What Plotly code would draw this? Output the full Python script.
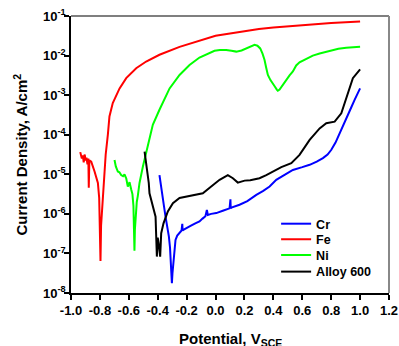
import plotly.graph_objects as go

# Potential (V vs SCE) and log10 current density (A/cm^2)
cr_v = [-0.388, -0.380, -0.369, -0.357, -0.346, -0.335, -0.323, -0.315, -0.311, -0.305, -0.302,
        -0.298, -0.291, -0.284, -0.277, -0.265, -0.249, -0.235, -0.230, -0.228, -0.220, -0.203,
        -0.170, -0.140, -0.111, -0.090, -0.070, -0.060, -0.053, -0.030, 0.005, 0.050, 0.097,
        0.103, 0.105, 0.110, 0.166, 0.220, 0.282, 0.330, 0.374, 0.420, 0.480, 0.535, 0.600,
        0.651, 0.700, 0.743, 0.775, 0.801, 0.830, 0.858, 0.890, 0.916, 0.940, 0.962, 0.980, 1.000]
cr_log = [-5.02, -5.25, -5.56, -5.80, -6.07, -6.30, -6.57, -6.85, -7.08, -7.40, -7.75,
          -7.50, -7.16, -6.90, -6.66, -6.55, -6.47, -6.42, -6.25, -6.42, -6.40, -6.36,
          -6.30, -6.24, -6.19, -6.12, -6.06, -5.90, -6.03, -6.00, -5.98, -5.92, -5.86,
          -5.63, -5.86, -5.84, -5.77, -5.68, -5.52, -5.42, -5.31, -5.14, -5.00, -4.89, -4.82,
          -4.76, -4.68, -4.59, -4.50, -4.38, -4.20, -3.96, -3.70, -3.46, -3.30, -3.12, -2.98, -2.83]

fe_v = [-0.936, -0.930, -0.925, -0.918, -0.912, -0.905, -0.900, -0.893, -0.886, -0.880,
        -0.877, -0.873, -0.860, -0.837, -0.814, -0.805, -0.799, -0.796, -0.792, -0.785,
        -0.778, -0.772, -0.760, -0.745, -0.734, -0.711, -0.687, -0.664, -0.618, -0.549,
        -0.480, -0.388, -0.249, -0.111, 0.000, 0.100, 0.200, 0.300, 0.400, 0.500, 0.600,
        0.700, 0.800, 0.900, 1.000]
fe_log = [-4.44, -4.50, -4.60, -4.52, -4.70, -4.50, -4.65, -4.58, -4.75, -4.60,
          -5.34, -4.65, -4.68, -4.93, -5.22, -5.60, -6.30, -7.19, -6.30, -5.90,
          -5.30, -4.95, -4.50, -4.00, -3.54, -3.20, -3.00, -2.83, -2.57, -2.32,
          -2.15, -1.98, -1.78, -1.62, -1.50, -1.44, -1.38, -1.33, -1.29, -1.26, -1.23,
          -1.20, -1.18, -1.16, -1.14]

ni_v = [-0.699, -0.690, -0.676, -0.665, -0.653, -0.640, -0.630, -0.618, -0.607, -0.595,
        -0.583, -0.575, -0.568, -0.563, -0.561, -0.558, -0.552, -0.545, -0.538, -0.526,
        -0.503, -0.469, -0.452, -0.434, -0.388, -0.341, -0.318, -0.249, -0.180, -0.111,
        -0.050, -0.007, 0.030, 0.074, 0.110, 0.143, 0.180, 0.212, 0.240, 0.270, 0.290,
        0.309, 0.325, 0.339, 0.350, 0.362, 0.380, 0.397, 0.410, 0.424, 0.431, 0.443,
        0.466, 0.490, 0.512, 0.535, 0.558, 0.581, 0.620, 0.673, 0.720, 0.770, 0.812,
        0.850, 0.904, 0.950, 1.000]
ni_log = [-4.64, -4.80, -4.93, -4.95, -5.02, -5.05, -5.00, -5.10, -5.31, -5.20,
          -5.39, -5.50, -5.80, -6.40, -6.93, -6.40, -5.90, -5.70, -5.55, -5.22,
          -4.81, -4.30, -4.00, -3.75, -3.37, -3.00, -2.83, -2.49, -2.24, -2.05,
          -1.95, -1.88, -1.86, -1.86, -1.88, -1.90, -1.87, -1.82, -1.77, -1.73, -1.75,
          -1.82, -1.95, -2.11, -2.30, -2.49, -2.62, -2.70, -2.78, -2.86, -2.89, -2.86,
          -2.74, -2.60, -2.50, -2.40, -2.25, -2.17, -2.10, -2.00, -1.95, -1.90, -1.86,
          -1.83, -1.80, -1.79, -1.78]

a600_v = [-0.491, -0.475, -0.462, -0.457, -0.445, -0.434, -0.415, -0.406, -0.400, -0.394,
          -0.388, -0.383, -0.376, -0.360, -0.330, -0.295, -0.249, -0.180, -0.088, -0.030,
          0.028, 0.085, 0.120, 0.154, 0.201, 0.240, 0.282, 0.304, 0.351, 0.397, 0.455,
          0.524, 0.581, 0.651, 0.720, 0.766, 0.824, 0.870, 0.916, 0.950, 1.000]
a600_log = [-4.43, -4.81, -5.22, -5.48, -5.65, -5.82, -6.07, -7.08, -6.60, -6.74,
            -6.90, -7.08, -6.49, -6.24, -5.94, -5.73, -5.60, -5.55, -5.48, -5.31,
            -5.14, -5.02, -5.10, -5.21, -5.16, -5.15, -5.12, -5.10, -5.02, -4.93, -4.82,
            -4.72, -4.51, -4.13, -3.84, -3.71, -3.67, -3.46, -2.95, -2.57, -2.35]

series = [("Cr", cr_v, cr_log, "#0000ff"),
          ("Fe", fe_v, fe_log, "#ff0000"),
          ("Ni", ni_v, ni_log, "#00ff00"),
          ("Alloy 600", a600_v, a600_log, "#000000")]

x_ticks = [-1.0, -0.8, -0.6, -0.4, -0.2, 0.0, 0.2, 0.4, 0.6, 0.8, 1.0, 1.2]
y_exps = [-8, -7, -6, -5, -4, -3, -2, -1]
y_tickvals = [10.0 ** e for e in y_exps]
y_ticktext = ["10<sup>%d</sup>" % e for e in y_exps]

legend_ids = ["legend", "legend2", "legend3", "legend4"]
legend_tops = [0.303, 0.247, 0.190, 0.130]

fig = go.Figure()
for (name, v, lg, col), lid in zip(series, legend_ids):
    fig.add_trace(go.Scatter(x=v, y=[10.0 ** k for k in lg], mode="lines", name=name,
                             legend=lid, line=dict(color=col, width=2)))

font = dict(family="Liberation Sans, Arial", size=13, color="#000000", weight="bold")

layout_legends = {}
for lid, top in zip(legend_ids, legend_tops):
    layout_legends[lid] = dict(x=0.645, y=top, xanchor="left", yanchor="top",
                               bgcolor="rgba(0,0,0,0)",
                               font=dict(size=12.5, weight="bold"),
                               itemwidth=30)

fig.update_layout(
    width=399, height=346,
    margin=dict(l=71, r=10, t=16, b=53, autoexpand=False),
    paper_bgcolor="white", plot_bgcolor="white",
    font=font,
    showlegend=True,
    xaxis=dict(range=[-1.0, 1.2], tickvals=x_ticks, automargin=False,
               ticktext=["%.1f" % t for t in x_ticks],
               ticks="outside", ticklen=5, tickwidth=1.5, tickcolor="black",
               showline=True, linecolor="black", linewidth=1.5,
               showgrid=False, zeroline=False,
               tickfont=dict(size=13, weight="bold")),
    yaxis=dict(type="log", range=[-8, -1], tickvals=y_tickvals, ticktext=y_ticktext,
               automargin=False, ticklabelstandoff=-4,
               ticks="outside", ticklen=5, tickwidth=1.5, tickcolor="black",
               showline=True, linecolor="black", linewidth=1.5,
               showgrid=False, zeroline=False,
               tickfont=dict(size=13, weight="bold")),
    **layout_legends,
)
fig.add_shape(type="line", xref="paper", yref="paper", x0=0, x1=1, y0=1, y1=1,
              line=dict(color="#555555", width=1.5))
fig.add_shape(type="line", xref="paper", yref="paper", x0=1, x1=1, y0=0, y1=1,
              line=dict(color="#888888", width=2))

fig.add_annotation(text="Potential, V<sub>SCE</sub>", xref="paper", yref="paper",
                   x=0.5, y=-0.126, xanchor="center", yanchor="top", showarrow=False,
                   font=dict(size=15, weight="bold"))
fig.add_annotation(text="Current Density, A/cm<sup>2</sup>", xref="paper", yref="paper",
                   x=-0.160, y=0.5, xanchor="center", yanchor="middle", showarrow=False,
                   textangle=-90, font=dict(size=15, weight="bold"))

fig.write_html("out.html", config={"displayModeBar": False},
               post_script="document.body.style.margin='0px';")
